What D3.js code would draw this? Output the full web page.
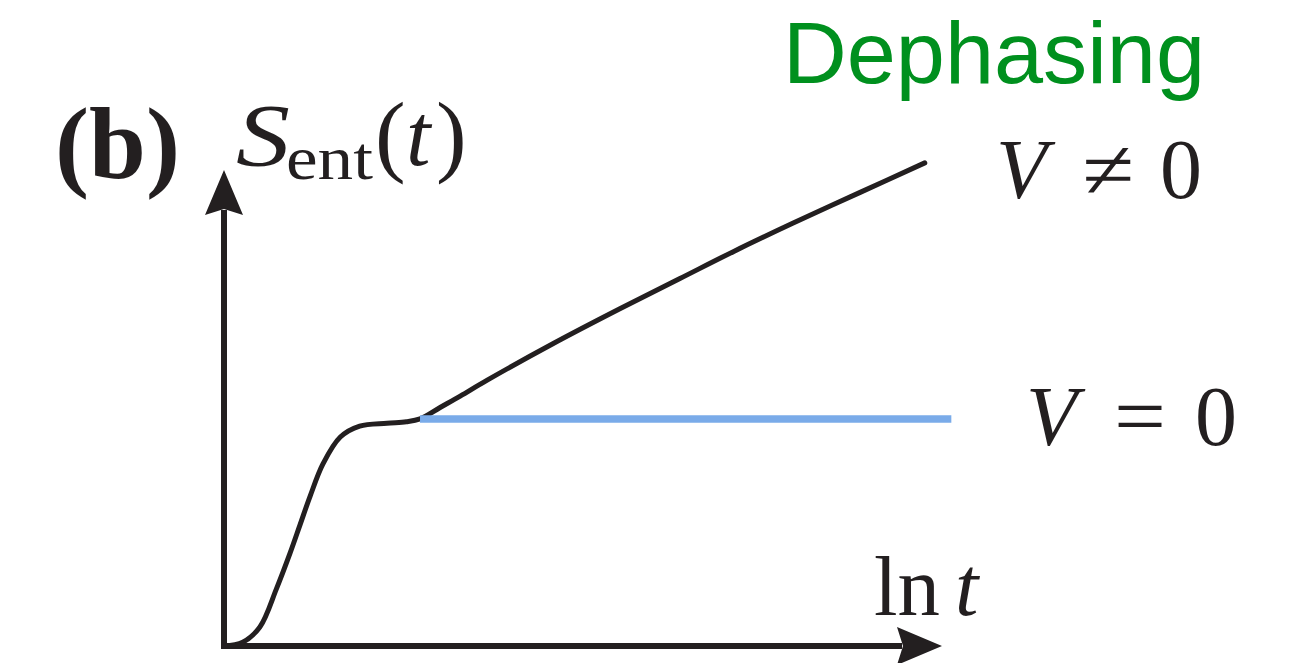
<!DOCTYPE html>
<html>
<head>
<meta charset="utf-8">
<script src="https://cdn.jsdelivr.net/npm/d3@7"></script>
<style>
  html, body { margin: 0; padding: 0; background: #fff; }
  svg { display: block; }
</style>
</head>
<body>
<svg id="chart" width="1296" height="663"></svg>
<script>
// Schematic entanglement growth under dephasing (arbitrary units).
// ln t values along the horizontal axis
const lnT = [0, 2.6, 5.0, 7.3, 9.2, 10.6, 12.0, 13.8, 16.2, 18.9, 22.7, 25.4, 27.3,
             30.1, 32.9, 36.6, 45.8, 55.2, 63.5, 71.0, 79.2, 88.6, 97.6];
// S_ent(t) for V != 0
const sInteracting = [0, 0.8, 4.0, 12.0, 19.5, 25.5, 31.5, 38.3, 43.9, 46.2, 46.8, 47.1, 47.7,
                      50.1, 52.5, 55.8, 63.5, 70.9, 77.2, 82.9, 88.8, 95.3, 101.5];
// S_ent(t) for V = 0: saturates at the plateau
const lnTFree = [27.3, 101.3];
const sFree = [47.7, 47.7];

const svg = d3.select("#chart");
const serif = "'Liberation Serif', 'Times New Roman', serif";

const x = d3.scaleLinear().domain([0, 100]).range([224, 942]);
const y = d3.scaleLinear().domain([0, 100]).range([646, 170]);

const ink = "#231f20";

// axes with arrowheads
const x0 = x(0), y0 = y(0), xTip = x(100), yTip = y(100);
svg.append("line")
  .attr("x1", x0).attr("y1", y0 + 3).attr("x2", x0).attr("y2", yTip + 40)
  .attr("stroke", ink).attr("stroke-width", 6);
svg.append("line")
  .attr("x1", x0 - 3).attr("y1", y0).attr("x2", xTip - 40).attr("y2", y0)
  .attr("stroke", ink).attr("stroke-width", 6);
svg.append("path")
  .attr("d", `M${x0},${yTip} L${x0 + 19},${yTip + 45} L${x0},${yTip + 39} L${x0 - 19},${yTip + 45} Z`)
  .attr("fill", ink);
svg.append("path")
  .attr("d", `M${xTip},${y0} L${xTip - 45},${y0 - 19} L${xTip - 39},${y0} L${xTip - 45},${y0 + 19} Z`)
  .attr("fill", ink);

// curves
const line = d3.line()
  .x(d => x(d[0]))
  .y(d => y(d[1]))
  .curve(d3.curveCatmullRom.alpha(0.5));

svg.append("path")
  .datum(d3.zip(lnT, sInteracting))
  .attr("d", line)
  .attr("fill", "none")
  .attr("stroke", ink)
  .attr("stroke-width", 5)
  .attr("stroke-linecap", "round");

svg.append("path")
  .datum(d3.zip(lnTFree, sFree))
  .attr("d", d3.line().x(d => x(d[0])).y(d => y(d[1])))
  .attr("fill", "none")
  .attr("stroke", "#7aabe9")
  .attr("stroke-width", 7.5);

// labels
function txt(str, px, py, size, opts = {}) {
  const t = svg.append("text")
    .attr("x", px).attr("y", py)
    .attr("font-family", opts.family || serif)
    .attr("font-size", size)
    .attr("font-style", opts.italic ? "italic" : "normal")
    .attr("font-weight", opts.bold ? "bold" : "normal")
    .attr("fill", opts.fill || ink)
    .attr("text-anchor", opts.anchor || "start")
    .text(str);
  if (opts.len) t.attr("textLength", opts.len).attr("lengthAdjust", "spacingAndGlyphs");
  return t;
}

// panel tag
txt("(b)", 55, 178, 102, { bold: true, len: 125 });

// vertical axis title S_ent(t)
txt("S", 236, 165, 88, { italic: true, len: 54 });
txt("ent", 286, 179, 62, { len: 87 });
txt("(", 375, 165, 92);
txt("t", 406, 165, 88, { italic: true });
txt(")", 436, 165, 92);

// horizontal axis title ln t
txt("ln", 874, 615, 84, { len: 66 });
txt("t", 955, 615, 84, { italic: true });

// curve labels
txt("V", 996, 198, 84, { italic: true });
txt("≠", 1108, 198, 84, { anchor: "middle", len: 52 });
txt("0", 1160, 198, 84);

txt("V", 1026, 445, 84, { italic: true });
txt("=", 1140, 445, 84, { anchor: "middle", len: 52 });
txt("0", 1195, 445, 84);

// title
txt("Dephasing", 783, 83, 88, {
  family: "'Liberation Sans', Arial, Helvetica, sans-serif",
  fill: "#00901e",
  len: 422
});
</script>
</body>
</html>
